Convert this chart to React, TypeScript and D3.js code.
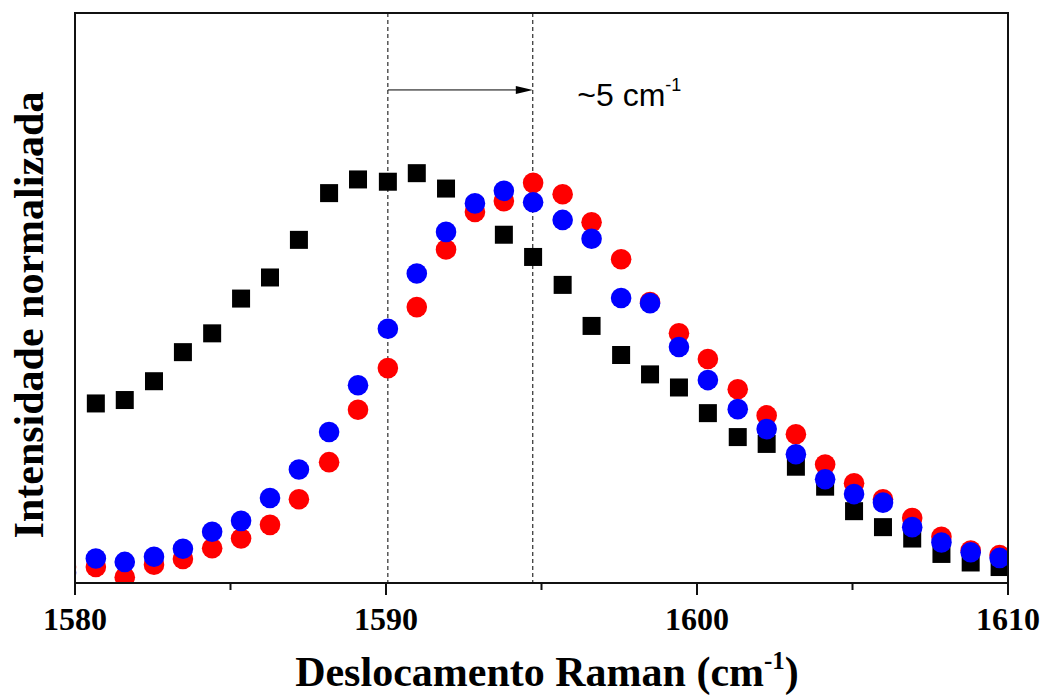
import React, { useEffect, useRef } from 'react';
import * as d3 from 'd3';

// raman shift (cm-1) of each measured point; the first one falls just outside the axis
const shift = [
  1579.71, 1580.67, 1581.6, 1582.54, 1583.47, 1584.41, 1585.34, 1586.27, 1587.2, 1588.17, 1589.1,
  1590.06, 1590.99, 1591.93, 1592.86, 1593.79, 1594.73, 1595.68, 1596.61, 1597.56, 1598.49,
  1599.42, 1600.35, 1601.31, 1602.24, 1603.18, 1604.12, 1605.05, 1605.98, 1606.92, 1607.86,
  1608.8, 1609.73,
];

// normalized intensities (black squares have no point at the first shift)
const seriesBlack = [
  null, 0.315, 0.321, 0.354, 0.405, 0.438, 0.499, 0.536, 0.602, 0.684, 0.708, 0.704, 0.719,
  0.692, 0.66, 0.611, 0.572, 0.523, 0.451, 0.4, 0.366, 0.343, 0.298, 0.256, 0.244, 0.204,
  0.169, 0.126, 0.098, 0.078, 0.051, 0.036, 0.028,
];
const seriesRed = [
  0.028, 0.028, 0.01, 0.032, 0.042, 0.061, 0.078, 0.102, 0.147, 0.212, 0.304, 0.377, 0.484,
  0.585, 0.651, 0.67, 0.702, 0.682, 0.633, 0.568, 0.493, 0.438, 0.393, 0.34, 0.294, 0.261,
  0.208, 0.175, 0.147, 0.114, 0.081, 0.057, 0.049,
];
const seriesBlue = [
  0.018, 0.043, 0.037, 0.046, 0.06, 0.09, 0.109, 0.149, 0.199, 0.265, 0.347, 0.446, 0.543,
  0.616, 0.666, 0.688, 0.668, 0.637, 0.604, 0.5, 0.491, 0.414, 0.356, 0.305, 0.27, 0.226,
  0.182, 0.156, 0.141, 0.098, 0.071, 0.054, 0.044,
];

const majorTicks = [1580, 1590, 1600, 1610];
const minorTicks = [1585, 1595, 1605];
const peakLines = [1590.06, 1594.72];

function App() {
  const ref = useRef(null);

  useEffect(() => {
    const width = 1043;
    const height = 695;
    const left = 75;
    const right = 1008;
    const top = 13;
    const bottom = 583;

    const root = d3.select(ref.current);
    root.selectAll('*').remove();
    const svg = root
      .append('svg')
      .attr('width', width)
      .attr('height', height)
      .style('position', 'absolute')
      .style('left', 0)
      .style('top', 0)
      .style('background', '#fff');

    const x = d3.scaleLinear().domain([1580, 1610]).range([left, right]);
    const y = d3.scaleLinear().domain([0, 1]).range([bottom, top]);

    svg
      .append('clipPath')
      .attr('id', 'plotArea')
      .append('rect')
      .attr('x', left)
      .attr('y', top)
      .attr('width', right - left)
      .attr('height', bottom - top);

    const marks = svg.append('g').attr('clip-path', 'url(#plotArea)');

    // dashed guide lines at the two peak positions
    marks
      .selectAll('line.guide')
      .data(peakLines)
      .enter()
      .append('line')
      .attr('class', 'guide')
      .attr('x1', d => x(d))
      .attr('x2', d => x(d))
      .attr('y1', y(1))
      .attr('y2', y(0))
      .attr('stroke', '#000')
      .attr('stroke-width', 1)
      .attr('stroke-dasharray', '4,3');

    const black = shift
      .map((s, i) => ({ s, v: seriesBlack[i] }))
      .filter(d => d.v !== null);
    const red = shift.map((s, i) => ({ s, v: seriesRed[i] }));
    const blue = shift.map((s, i) => ({ s, v: seriesBlue[i] }));

    const side = 18;
    marks
      .selectAll('rect.sq')
      .data(black)
      .enter()
      .append('rect')
      .attr('class', 'sq')
      .attr('x', d => x(d.s) - side / 2)
      .attr('y', d => y(d.v) - side / 2)
      .attr('width', side)
      .attr('height', side)
      .attr('fill', '#000');

    marks
      .selectAll('circle.red')
      .data(red)
      .enter()
      .append('circle')
      .attr('class', 'red')
      .attr('cx', d => x(d.s))
      .attr('cy', d => y(d.v))
      .attr('r', 10.3)
      .attr('fill', '#ff0000');

    marks
      .selectAll('circle.blue')
      .data(blue)
      .enter()
      .append('circle')
      .attr('class', 'blue')
      .attr('cx', d => x(d.s))
      .attr('cy', d => y(d.v))
      .attr('r', 10.3)
      .attr('fill', '#0000ff');

    // shift arrow
    const arrowY = y(0.865);
    const x0 = x(peakLines[0]);
    const x1 = x(peakLines[1]);
    svg
      .append('line')
      .attr('x1', x0)
      .attr('x2', x1 - 14)
      .attr('y1', arrowY)
      .attr('y2', arrowY)
      .attr('stroke', '#000')
      .attr('stroke-width', 1);
    svg
      .append('path')
      .attr('d', `M${x1},${arrowY} L${x1 - 17},${arrowY - 4} L${x1 - 17},${arrowY + 4} Z`)
      .attr('fill', '#000');

    const note = svg
      .append('text')
      .attr('x', x(1596.15))
      .attr('y', y(0.837))
      .style('font-family', '"Liberation Sans", Arial, sans-serif')
      .style('font-size', '32px')
      .attr('fill', '#000');
    note.append('tspan').text('~5 cm');
    note.append('tspan').attr('dy', -15).style('font-size', '18px').text('-1');

    // frame
    svg
      .append('rect')
      .attr('x', left)
      .attr('y', top)
      .attr('width', right - left)
      .attr('height', bottom - top)
      .attr('fill', 'none')
      .attr('stroke', '#111')
      .attr('stroke-width', 2);

    // bottom ticks
    svg
      .selectAll('line.major')
      .data(majorTicks)
      .enter()
      .append('line')
      .attr('class', 'major')
      .attr('x1', d => x(d))
      .attr('x2', d => x(d))
      .attr('y1', bottom)
      .attr('y2', bottom + 12)
      .attr('stroke', '#111')
      .attr('stroke-width', 2);
    svg
      .selectAll('line.minor')
      .data(minorTicks)
      .enter()
      .append('line')
      .attr('class', 'minor')
      .attr('x1', d => x(d))
      .attr('x2', d => x(d))
      .attr('y1', bottom)
      .attr('y2', bottom + 7)
      .attr('stroke', '#111')
      .attr('stroke-width', 2);
    svg
      .selectAll('text.tick')
      .data(majorTicks)
      .enter()
      .append('text')
      .attr('class', 'tick')
      .attr('x', d => x(d))
      .attr('y', 630)
      .attr('text-anchor', 'middle')
      .style('font-family', '"Liberation Serif", "Times New Roman", serif')
      .style('font-weight', 'bold')
      .style('font-size', '32px')
      .text(d => d);

    // axis titles
    const xt = svg
      .append('text')
      .attr('x', 547)
      .attr('y', 686)
      .attr('text-anchor', 'middle')
      .style('font-family', '"Liberation Serif", "Times New Roman", serif')
      .style('font-weight', 'bold')
      .style('font-size', '42px');
    xt.append('tspan').text('Deslocamento Raman (cm');
    xt.append('tspan').attr('dy', -17).style('font-size', '25px').text('-1');
    xt.append('tspan').attr('dy', 17).text(')');

    svg
      .append('text')
      .attr('transform', 'translate(43,315) rotate(-90)')
      .attr('text-anchor', 'middle')
      .style('font-family', '"Liberation Serif", "Times New Roman", serif')
      .style('font-weight', 'bold')
      .style('font-size', '42px')
      .text('Intensidade normalizada');
  }, []);

  return <div ref={ref}></div>;
}

export default App;
